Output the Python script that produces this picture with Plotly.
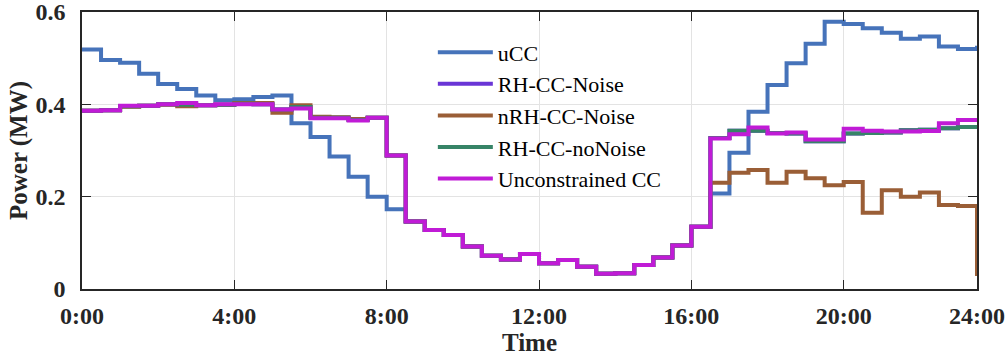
import plotly.graph_objects as go

# half-hour time steps (hours)
hours = [0.5 * k for k in range(48)]

tick_hours = [0, 4, 8, 12, 16, 20, 23.5]
tick_labels = ["0:00", "4:00", "8:00", "12:00", "16:00", "20:00", "24:00"]

mid = [0.146, 0.128, 0.117, 0.092, 0.072, 0.064, 0.076, 0.056,
       0.063, 0.048, 0.033, 0.034, 0.052, 0.068, 0.094, 0.135]

ucc = [0.519, 0.496, 0.490, 0.466, 0.444, 0.433, 0.419, 0.409,
       0.411, 0.416, 0.419, 0.359, 0.329, 0.287, 0.243, 0.200,
       0.173] + mid + [
       0.207, 0.295, 0.384, 0.442, 0.489, 0.531, 0.579, 0.574,
       0.565, 0.555, 0.542, 0.547, 0.525, 0.520, 0.527]

unconstrained = [0.386, 0.387, 0.397, 0.397, 0.400, 0.403, 0.398, 0.400,
                 0.400, 0.400, 0.389, 0.391, 0.370, 0.370, 0.365, 0.371,
                 0.289] + mid + [
                 0.326, 0.335, 0.350, 0.337, 0.339, 0.324, 0.324, 0.347,
                 0.343, 0.341, 0.341, 0.342, 0.359, 0.366, 0.362]

nrh_noise = [0.386, 0.387, 0.395, 0.397, 0.399, 0.396, 0.398, 0.399,
             0.403, 0.403, 0.382, 0.398, 0.373, 0.372, 0.368, 0.371,
             0.289] + mid + [
             0.230, 0.252, 0.258, 0.230, 0.254, 0.240, 0.225, 0.232,
             0.165, 0.214, 0.200, 0.209, 0.182, 0.180, 0.028]

rh_nonoise = [0.386, 0.387, 0.396, 0.397, 0.400, 0.399, 0.398, 0.399,
              0.401, 0.400, 0.389, 0.394, 0.371, 0.371, 0.366, 0.371,
              0.289] + mid + [
              0.327, 0.343, 0.343, 0.338, 0.337, 0.320, 0.320, 0.337,
              0.338, 0.339, 0.344, 0.345, 0.348, 0.351, 0.351]

rh_noise = list(rh_nonoise)

series = [
    ("uCC", ucc, "#4673BA"),
    ("RH-CC-Noise", rh_noise, "#6A35D6"),
    ("nRH-CC-Noise", nrh_noise, "#9A5E36"),
    ("RH-CC-noNoise", rh_nonoise, "#368467"),
    ("Unconstrained CC", unconstrained, "#C01BD6"),
]

fig = go.Figure()
for name, vals, color in series:
    fig.add_trace(go.Scatter(
        x=hours, y=vals, name=name, mode="lines",
        line=dict(color=color, width=4, shape="hv"),
        cliponaxis=False,
    ))

axis_font = dict(family="Liberation Serif", size=24, color="#262626", weight="bold")
title_font = dict(family="Liberation Serif", size=25, color="#262626")

fig.update_layout(
    width=1007, height=360,
    margin=dict(l=82, r=30, t=12, b=71),
    paper_bgcolor="white", plot_bgcolor="white",
    font=dict(family="Liberation Serif", color="#262626"),
    showlegend=True,
    legend=dict(
        x=0.392, y=0.93, xanchor="left", yanchor="top",
        bgcolor="rgba(255,255,255,0)", borderwidth=0,
        font=dict(family="Liberation Serif", size=22, color="#000000"),
        itemwidth=55, tracegroupgap=0,
    ),
    xaxis=dict(
        range=[0, 23.5], tickmode="array", tickvals=tick_hours, ticktext=tick_labels,
        showgrid=True, gridcolor="#E3E3E3", gridwidth=1,
        showline=True, linecolor="#262626", linewidth=1.5, mirror="ticks",
        ticks="inside", ticklen=9, tickwidth=1.2, tickcolor="#262626",
        tickfont=axis_font, ticklabelstandoff=4, automargin=False,
        ticklabeloverflow="allow",
        title=dict(text="<b>Time</b>", font=title_font, standoff=5),
        zeroline=False,
    ),
    yaxis=dict(
        range=[0, 0.6], tickmode="array", tickvals=[0, 0.2, 0.4, 0.6],
        ticktext=["0", "0.2", "0.4", "0.6"],
        showgrid=True, gridcolor="#E3E3E3", gridwidth=1,
        showline=True, linecolor="#262626", linewidth=1.5, mirror="ticks",
        ticks="inside", ticklen=9, tickwidth=1.2, tickcolor="#262626",
        tickfont=axis_font, ticklabelstandoff=10, automargin=False,
        ticklabeloverflow="allow",
        title=dict(text="<b>Power (MW)</b>", font=title_font, standoff=1),
        zeroline=False,
    ),
)

fig.write_html("out.html")
